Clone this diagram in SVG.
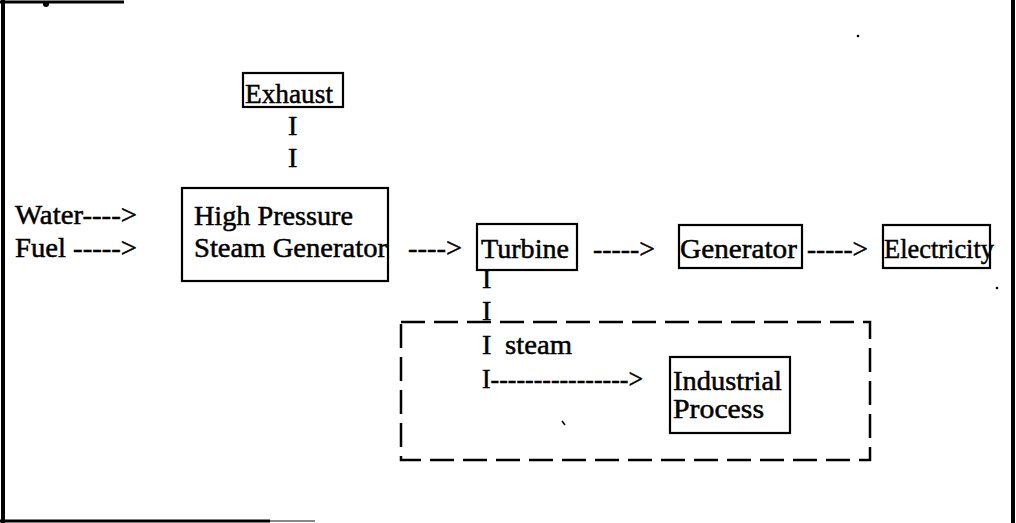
<svg xmlns="http://www.w3.org/2000/svg" width="1016" height="523" viewBox="0 0 1016 523">
<style>
.t{font-family:'Liberation Serif','DejaVu Serif',serif;font-size:28px;fill:#000;stroke:#000;stroke-width:0.5}
.box{fill:none;stroke:#000;stroke-width:2.2}
.dash{fill:none;stroke:#000;stroke-width:2.5;stroke-dasharray:24 9}
.frame{stroke:#000;stroke-width:4;fill:none}
</style>
<rect width="1016" height="523" fill="#fff"/>
<g id="frame">
<line class="frame" x1="3" y1="0" x2="3" y2="523"/>
<line class="frame" x1="1013" y1="0" x2="1013" y2="523"/>
<line x1="0" y1="521" x2="270" y2="521" stroke="#000" stroke-width="3"/>
<line x1="270" y1="521" x2="315" y2="521" stroke="#888" stroke-width="2"/>
<line x1="0" y1="2" x2="124" y2="2" stroke="#000" stroke-width="3"/>
<circle cx="46" cy="4" r="3" fill="#000"/>
<circle cx="858" cy="36" r="1.3" fill="#000"/>
<circle cx="997" cy="288" r="1.3" fill="#000"/>
<line x1="562" y1="421" x2="565" y2="425" stroke="#000" stroke-width="1.5"/>
</g>
<g id="exhaust">
<rect class="box" x="243" y="73" width="100" height="34"/>
<text class="t" x="245" y="103" textLength="88" lengthAdjust="spacingAndGlyphs">Exhaust</text>
</g>
<g id="steam-generator">
<rect class="box" x="182" y="188" width="206" height="93"/>
<text class="t" x="194" y="225" textLength="159" lengthAdjust="spacingAndGlyphs">High Pressure</text>
<text class="t" x="194" y="257" textLength="193" lengthAdjust="spacingAndGlyphs">Steam Generator</text>
</g>
<g id="turbine">
<rect class="box" x="477" y="224" width="100" height="46"/>
<text class="t" x="481" y="258" textLength="88" lengthAdjust="spacingAndGlyphs">Turbine</text>
</g>
<g id="generator">
<rect class="box" x="679" y="225" width="123" height="43"/>
<text class="t" x="680" y="258" textLength="117" lengthAdjust="spacingAndGlyphs">Generator</text>
</g>
<g id="electricity">
<rect class="box" x="883" y="225" width="107" height="43"/>
<text class="t" x="884" y="258" textLength="110" lengthAdjust="spacingAndGlyphs">Electricity</text>
</g>
<g id="industrial-process">
<rect class="box" x="670" y="357" width="120" height="76"/>
<text class="t" x="673" y="390" textLength="109" lengthAdjust="spacingAndGlyphs">Industrial</text>
<text class="t" x="673" y="418" textLength="91" lengthAdjust="spacingAndGlyphs">Process</text>
</g>
<g id="cogeneration-boundary">
<rect class="dash" x="401" y="322" width="469" height="138"/>
</g>
<g id="connectors">
<text class="t" x="288" y="135">I</text>
<text class="t" x="288" y="167">I</text>
<text class="t" x="15" y="224" textLength="122" lengthAdjust="spacingAndGlyphs">Water----&gt;</text>
<text class="t" x="15" y="257" textLength="122" lengthAdjust="spacingAndGlyphs">Fuel -----&gt;</text>
<text class="t" x="408" y="257" textLength="54" lengthAdjust="spacingAndGlyphs">----&gt;</text>
<text class="t" x="593" y="258" textLength="62" lengthAdjust="spacingAndGlyphs">-----&gt;</text>
<text class="t" x="807" y="258" textLength="61" lengthAdjust="spacingAndGlyphs">-----&gt;</text>
<text class="t" x="482" y="288">I</text>
<text class="t" x="482" y="320">I</text>
<text class="t" x="482" y="354">I</text>
<text class="t" x="505" y="354" textLength="67" lengthAdjust="spacingAndGlyphs">steam</text>
<text class="t" x="482" y="388" textLength="161" lengthAdjust="spacingAndGlyphs">I----------------&gt;</text>
</g>
</svg>
